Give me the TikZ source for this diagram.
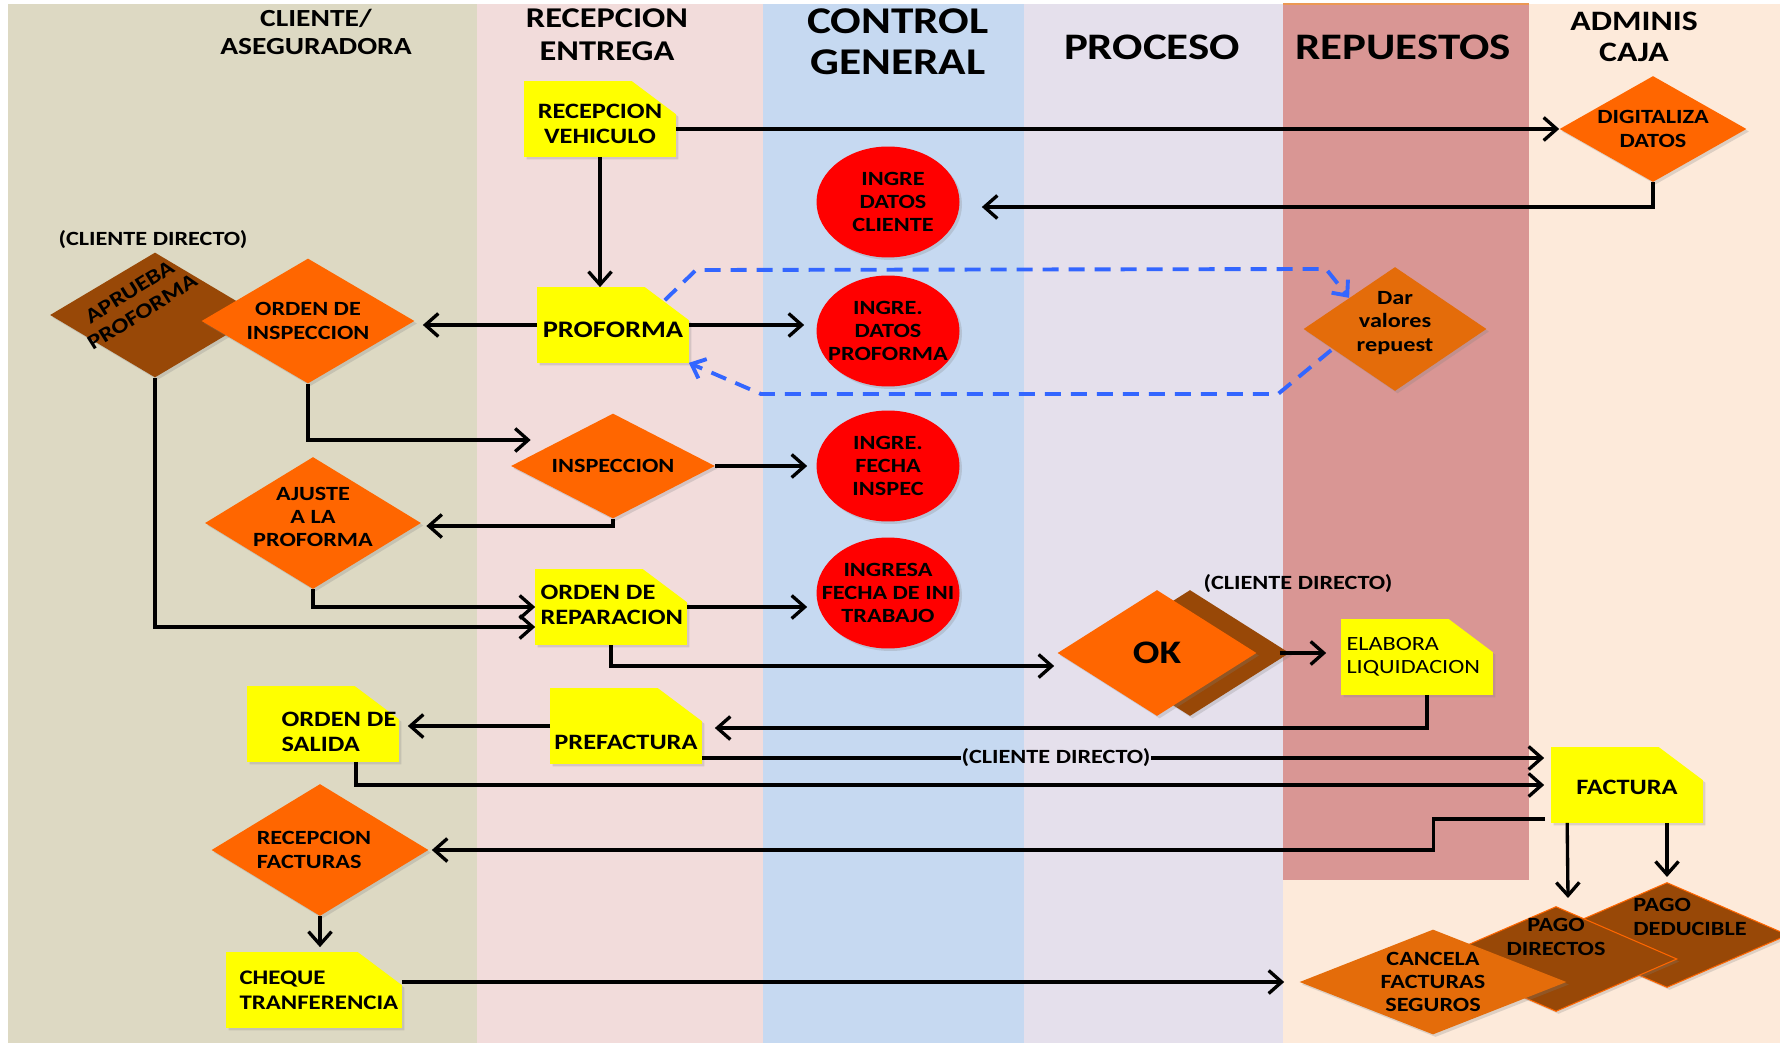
\documentclass[tikz,border=0pt]{standalone}
\usepackage{fontspec}
\setmainfont{Carlito}[FakeStretch=1.2]
\usepackage{tikz}
\usetikzlibrary{arrows.meta, shapes.geometric, calc, shadows}
\definecolor{lanetan}{HTML}{DDD9C3}
\definecolor{lanepink}{HTML}{F2DCDB}
\definecolor{laneblue}{HTML}{C6D9F1}
\definecolor{lanelila}{HTML}{E5E0EC}
\definecolor{lanepeach}{HTML}{FDEADA}
\definecolor{lanerose}{HTML}{D99694}
\definecolor{docyellow}{HTML}{FFFF00}
\definecolor{decorange}{HTML}{FF6600}
\definecolor{decdark}{HTML}{E46C0A}
\definecolor{decbrown}{HTML}{984807}
\definecolor{flowblue}{HTML}{3366FF}

\tikzset{
  arr/.style={line width=1.9pt, -{Straight Barb[length=0.26cm, width=0.46cm]}},
  flow/.style={flowblue, line width=2.2pt, dash pattern=on 0.32cm off 0.2cm,
               -{Straight Barb[length=0.24cm, width=0.42cm]}},
  shd/.style={drop shadow={shadow xshift=0.05cm, shadow yshift=-0.05cm, opacity=0.25}},
  doc/.style={rectangle, minimum width=3.02cm, minimum height=1.5cm, inner sep=0pt,
              append after command={\pgfextra{%
                \fill[docyellow, shd] (\tikzlastnode.south west) -- (\tikzlastnode.north west)
                  -- ([xshift=-0.88cm]\tikzlastnode.north east)
                  -- ([yshift=-0.66cm]\tikzlastnode.north east)
                  -- (\tikzlastnode.south east) -- cycle;}}},
  dec/.style={diamond, fill=decorange, inner sep=0pt, shd},
  db/.style={ellipse, fill=red, minimum width=2.86cm, minimum height=2.22cm,
             inner sep=0pt, shd},
  lbl/.style={font=\bfseries\fontsize{11.5}{13.2}\selectfont, align=center, inner sep=0pt},
  doctxt/.style={font=\bfseries\fontsize{12.5}{14.2}\selectfont, align=center, inner sep=0pt},
  head/.style 2 args={align=center, inner sep=0pt, font=\bfseries\fontsize{#1}{#2}\selectfont}
}

\begin{document}
\begin{tikzpicture}[x=0.02cm, y=-0.02cm]
  \useasboundingbox (0,0) rectangle (1780,1043);
  \fill[white] (0,0) rectangle (1780,1043);

  %% Swim lanes
  \foreach \xa/\xb/\c in {8/477/lanetan, 477/763/lanepink, 763/1024/laneblue,
                          1024/1283/lanelila, 1283/1780/lanepeach} {
    \fill[\c] (\xa,4) rectangle (\xb,1043);
  }
  \fill[lanerose] (1283,4) rectangle (1529,880);
  \draw[decdark!70, line width=0.8pt] (1283,4) -- (1529,4);

  %% Lane titles
  \node[head={14}{15.5}] (hcli) at (316,32) {CLIENTE/\\ASEGURADORA};
  \node[head={16.3}{18.7}] (hrec) at (607,35) {RECEPCION\\ENTREGA};
  \node[head={21.5}{23.2}] (hcon) at (898,42) {CONTROL\\GENERAL};
  \node[head={21.3}{23}] (hpro) at (1152,47) {PROCESO};
  \node[head={21.3}{23}] (hrep) at (1403,47) {REPUESTOS};
  \node[head={16}{18}] (hadm) at (1634,37) {ADMINIS\\CAJA};

  %% Upper part
  \node[doc, label={[doctxt, yshift=-0.1cm]center:RECEPCION\\VEHICULO}] (recveh) at (600,119) {};
  \node[dec, minimum width=3.74cm, minimum height=2.12cm,
        label={[lbl]center:DIGITALIZA\\DATOS}] (digit) at (1653,129) {};
  \node[db, label={[lbl, xshift=0.1cm]center:INGRE\\DATOS\\CLIENTE}] (idc) at (888,202) {};

  \node[lbl] (cd1) at (153,240) {(CLIENTE DIRECTO)};
  \node[dec, fill=decbrown, minimum width=4.2cm, minimum height=2.5cm] (aprueba) at (155,315) {};
  \node[lbl, font=\bfseries\fontsize{12}{13.6}\selectfont, rotate=32] (aptxt) at (136,302) {APRUEBA\\PROFORMA};
  \node[dec, minimum width=4.26cm, minimum height=2.5cm,
        label={[lbl]center:ORDEN DE\\INSPECCION}] (oinsp) at (308,321) {};
  \node[doc, label={[doctxt, font=\bfseries\fontsize{13.5}{15}\selectfont, yshift=-0.1cm]center:PROFORMA}] (prof) at (613,325) {};
  \node[db, label={[lbl]center:INGRE.\\DATOS\\PROFORMA}] (idp) at (888,331) {};
  \node[dec, fill=decdark, minimum width=3.66cm, minimum height=2.48cm,
        label={[lbl, yshift=0.12cm]center:Dar\\valores\\repuest}] (dar) at (1395,329) {};

  \node[dec, minimum width=4.08cm, minimum height=2.1cm,
        label={[lbl]center:INSPECCION}] (insp) at (613,466) {};
  \node[db, label={[lbl]center:INGRE.\\FECHA\\INSPEC}] (ifi) at (888,466) {};
  \node[dec, minimum width=4.32cm, minimum height=2.64cm,
        label={[lbl, yshift=0.12cm]center:AJUSTE\\A LA\\PROFORMA}] (ajuste) at (313,523) {};
  \node[doc, label={[doctxt, align=left, anchor=west, xshift=0.1cm, yshift=0.04cm]west:ORDEN DE\\REPARACION}] (orep) at (611,607) {};
  \node[db, label={[lbl]center:INGRESA\\FECHA DE INI\\TRABAJO}] (ifit) at (888,593) {};

  %% OK and liquidacion
  \node[dec, fill=decbrown, minimum width=3.98cm, minimum height=2.52cm] (okback) at (1190,653) {};
  \node[dec, minimum width=3.98cm, minimum height=2.52cm,
        label={[lbl, font=\bfseries\fontsize{18.7}{22}\selectfont]center:OK}] (ok) at (1157,653) {};
  \node[lbl] (cd2) at (1298,584) {(CLIENTE DIRECTO)};
  \node[doc, label={[lbl, font=\fontsize{11.5}{13}\selectfont, align=left, anchor=west, xshift=0.1cm]west:ELABORA\\LIQUIDACION}] (eliq) at (1417,657) {};

  %% Lower part
  \node[doc, label={[doctxt, align=left, anchor=west, xshift=0.68cm, yshift=-0.16cm]west:ORDEN DE\\SALIDA}] (osal) at (323,724) {};
  \node[doc, label={[doctxt, yshift=-0.32cm]center:PREFACTURA}] (pref) at (626,726) {};
  \node[lbl] (cd3) at (1056,758) {(CLIENTE DIRECTO)};
  \node[doc, label={[doctxt, yshift=-0.04cm]center:FACTURA}] (fact) at (1627,785) {};
  \node[dec, minimum width=4.34cm, minimum height=2.64cm,
        label={[lbl, align=left, xshift=-0.12cm]center:RECEPCION\\FACTURAS}] (recf) at (320,850) {};
  \node[doc, minimum width=3.5cm, label={[doctxt, font=\bfseries\fontsize{11.8}{14.2}\selectfont, align=left, anchor=west, xshift=0.26cm]west:CHEQUE\\TRANFERENCIA}] (cheq) at (314,990) {};

  \node[dec, fill=decbrown, draw=decorange, line width=0.6pt, minimum width=4.84cm, minimum height=2.1cm,
        label={[lbl, align=left, xshift=0.46cm, yshift=0.36cm]center:PAGO\\DEDUCIBLE}] (pded) at (1667,935) {};
  \node[dec, fill=decbrown, draw=decorange, line width=0.6pt, minimum width=4.84cm, minimum height=2.1cm,
        label={[lbl, yshift=0.44cm]center:PAGO\\DIRECTOS}] (pdir) at (1556,959) {};
  \node[dec, fill=decdark, minimum width=5.34cm, minimum height=2.1cm,
        label={[lbl]center:CANCELA\\FACTURAS\\SEGUROS}] (canc) at (1433,982) {};

  %% Connectors
  \draw[arr] (recveh.east |- digit.west) -- (digit.west);
  \draw[arr] (digit.south) |- ($(idc.east)+(22,5)$);
  \draw[arr] (recveh.south) -- (recveh.south |- prof.north);
  \draw[arr, shorten >=0.16cm] (prof.west) -- (prof.west -| oinsp.east);
  \draw[arr, shorten >=0.24cm] (prof.east) -- (prof.east -| idp.west);
  \draw[flow] ([xshift=-0.48cm, yshift=-0.26cm]prof.north east) -- (696,270) -- (1326,269) -- (dar.north west);
  \draw[flow] ([xshift=-0.36cm, yshift=0.2cm]dar.south west) -- (1278,394) -- (761,394) -- (prof.south east);
  \draw[arr] (oinsp.south) |- ($(insp.west)+(20,-26)$);
  \draw[arr] (aprueba.south) |- ($(orep.west)+(0,20)$);
  \draw[arr, shorten >=0.18cm] (insp.east) -- (insp.east -| ifi.west);
  \draw[arr] (insp.south) |- ($(ajuste.east)+(5,3)$);
  \draw[arr] (ajuste.south) |- (orep.west);
  \draw[arr, shorten >=0.18cm] (orep.east) -- (orep.east -| ifit.west);
  \draw[arr] (orep.south) |- ($(ok.west)+(-3,13)$);
  \draw[arr, shorten >=0.3cm] ($(okback.east)+(-10,0)$) -- (okback.east -| eliq.west);
  \draw[arr] ($(eliq.south)+(10,0)$) |- ($(pref.east)+(13,2)$);
  \draw[arr, shorten >=0.18cm] (pref.west) -- (pref.west -| osal.east);
  \draw[line width=1.9pt] (pref.east |- cd3.west) -- (cd3.west);
  \draw[arr, shorten >=0.14cm] (cd3.east) -- (cd3.east -| fact.west);
  \draw[arr] ($(osal.south)+(33,0)$) |- ($(fact.west)+(-7,0)$);
  \draw[arr] ($(fact.south west)+(-6,-4)$) -- ++(-112,0) |- ($(recf.east)+(3,0)$);
  \draw[arr, shorten >=0.1cm] (recf.south) -- (recf.south |- cheq.north);
  \draw[arr, shorten >=0.3cm] (cheq.east |- canc.west) -- (canc.west);
  \draw[arr] ($(fact.south west)+(16,0)$) -- ($(pdir.north)+(12,-8)$);
  \draw[arr, shorten >=0.1cm] (fact.south -| pded.north) -- (pded.north);
\end{tikzpicture}
\end{document}
